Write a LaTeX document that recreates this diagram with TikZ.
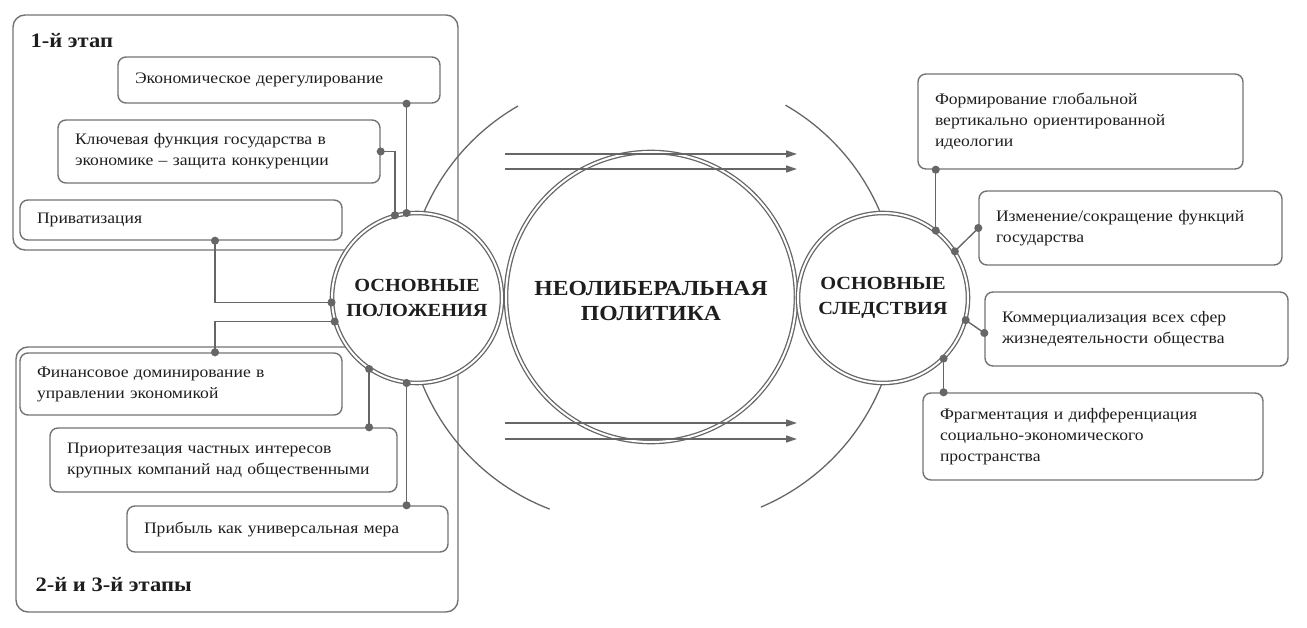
\documentclass[tikz,border=0pt]{standalone}
\usepackage{fontspec}
\setmainfont[FakeStretch=1.1]{Liberation Serif}
\usetikzlibrary{arrows.meta}
\definecolor{linegray}{HTML}{666666}
\definecolor{boxgray}{HTML}{737373}
\definecolor{inkgray}{HTML}{1E1E1E}

\begin{document}
\begin{tikzpicture}[x=1pt, y=1pt,
	text=inkgray,
	box/.style={draw=boxgray, line width=1.4pt, rounded corners=8pt,
		inner xsep=17pt, inner ysep=0pt, align=left,
		font=\fontsize{16}{21}\selectfont}, % text boxes
	frame/.style={draw=boxgray, line width=1.4pt, rounded corners=12pt},
	ring/.style={circle, draw=linegray, double=white, double distance=2pt,
		line width=1.3pt, fill=white, inner sep=0pt, align=center,
		font=\bfseries\fontsize{18.5}{25}\selectfont},
	link/.style={draw=linegray, line width=1.4pt,
		{Circle[length=8pt]}-{Circle[length=8pt]},
		shorten <=-4pt, shorten >=-4pt}, % dot at both ends
	flow/.style={draw=linegray, line width=1.3pt,
		-{Triangle[length=11pt,width=7pt]}},
	stage/.style={anchor=west, font=\bfseries\fontsize{20.5}{22}\selectfont}]

	\useasboundingbox (0,0) rectangle (1307,627);

	% stage frames
	\draw[frame] (13,612) rectangle (458,377);
	\draw[frame] (16,280) rectangle (458,15);
	\node[stage] (st1) at (27,586) {1-й этап};
	\node[stage] (st2) at (32,42) {2-й и 3-й этапы};

	% arcs round the centre
	\draw[linegray, line width=1.3pt] (630,327) ++(120:224pt) arc[start angle=120, end angle=249, radius=224pt];
	\draw[linegray, line width=1.3pt] (673,327) ++(60:225pt) arc[start angle=60, end angle=-67, radius=225pt];

	% left boxes
	\node[box, text width=288pt, minimum height=46pt] (ekon) at (279,547) {Экономическое дерегулирование};
	\node[box, text width=288pt, minimum height=63pt] (kluch) at (219,475.5) {Ключевая функция государства в\\экономике – защита конкуренции};
	\node[box, text width=288pt, minimum height=40pt] (priv) at (181,407) {Приватизация};
	\node[box, text width=288pt, minimum height=62pt] (fin) at (181,243) {Финансовое доминирование в\\управлении экономикой};
	\node[box, text width=313pt, minimum height=64pt] (prior) at (223.5,167) {Приоритезация частных интересов\\крупных компаний над общественными};
	\node[box, text width=287pt, minimum height=46pt] (prib) at (287.5,98) {Прибыль как универсальная мера};

	% right boxes
	\node[box, text width=291pt, minimum height=95pt] (form) at (1080.5,505.5) {Формирование глобальной\\вертикально ориентированной\\идеологии};
	\node[box, text width=269pt, minimum height=74pt] (izm) at (1130.5,399) {Изменение/сокращение функций\\государства};
	\node[box, text width=269pt, minimum height=74pt] (komm) at (1136.5,298) {Коммерциализация всех сфер\\жизнедеятельности общества};
	\node[box, text width=306pt, minimum height=87pt] (frag) at (1093,190.5) {Фрагментация и дифференциация\\социально-экономического\\пространства};

	% circles
	\node[ring, minimum size=170pt] (pol) at (417,329) {ОСНОВНЫЕ\\ПОЛОЖЕНИЯ};
	\node[ring, minimum size=290pt, font=\bfseries\fontsize{21.5}{25}\selectfont] (neo) at (651,330)
		{\raisebox{-11.5pt}[0pt][0pt]{\begin{tabular}{@{}c@{}}НЕОЛИБЕРАЛЬНАЯ\\ПОЛИТИКА\end{tabular}}};
	\node[ring, minimum size=170pt] (sled) at (883,329) {ОСНОВНЫЕ\\СЛЕДСТВИЯ};

	% links on the left
	\draw[link] (ekon.south -| pol.97) -- (pol.97);
	\draw[link] (kluch.east) -| (pol.105);
	\draw[link] ([xshift=34pt]priv.south) |- (pol.183);
	\draw[link] ([xshift=34pt]fin.north) |- (pol.196);
	\draw[link] (prior.north -| pol.236) -- (pol.236);
	\draw[link] (prib.north -| pol.263) -- (pol.263);

	% links on the right
	\draw[link] (form.south -| sled.52) -- (sled.52);
	\draw[link] (izm.west) -- (sled.33);
	\draw[link] ([yshift=-4pt]komm.west) -- (sled.-15);
	\draw[link] (frag.north -| sled.-45) -- (sled.-45);

	% arrows
	\coordinate (a1) at (505,473);  \coordinate (b1) at (797,473);
	\coordinate (a2) at (505,458);  \coordinate (b2) at (797,458);
	\coordinate (a3) at (505,204);  \coordinate (b3) at (797,204);
	\coordinate (a4) at (505,188);  \coordinate (b4) at (797,188);
	\draw[flow] (a1) -- (b1);
	\draw[flow] (a2) -- (b2);
	\draw[flow] (a3) -- (b3);
	\draw[flow] (a4) -- (b4);

\end{tikzpicture}
\end{document}
